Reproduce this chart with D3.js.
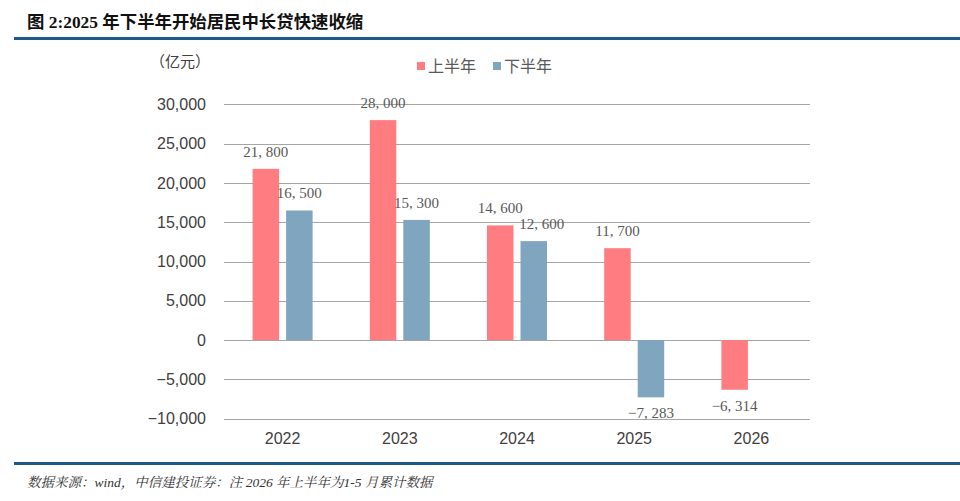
<!doctype html>
<html lang="zh">
<head>
    <meta charset="UTF-8" />
    <script src="https://d3js.org/d3.v7.min.js"></script>
    <style>
        body { margin: 0; background: #fff; }
    </style>
</head>
<body>
    <div id="chart"></div>
    <script>
        // Data
        const years = ["2022", "2023", "2024", "2025", "2026"]
        const firstHalf = [21800, 28000, 14600, 11700, -6314]
        const secondHalf = [16500, 15300, 12600, -7283, null]
        const yTicks = [-10000, -5000, 0, 5000, 10000, 15000, 20000, 25000, 30000]
        const seriesNames = ["上半年", "下半年"]
        const colors = ["#ff7c80", "#7fa5bf"]

        const W = 960, H = 501
        const svg = d3.select("#chart").append("svg")
            .attr("width", W).attr("height", H)

        // Title and rules
        svg.append("text")
            .attr("x", 27).attr("y", 28)
            .attr("font-family", "'Liberation Serif', 'Noto Sans CJK SC', serif")
            .attr("font-weight", "bold")
            .attr("font-size", 17.4)
            .attr("fill", "#111")
            .text("图 2:2025 年下半年开始居民中长贷快速收缩")

        svg.append("rect").attr("x", 14).attr("y", 37).attr("width", W - 14).attr("height", 3).attr("fill", "#1d5a8a")
        svg.append("rect").attr("x", 14).attr("y", 462).attr("width", W - 14).attr("height", 3).attr("fill", "#1d5a8a")

        svg.append("text")
            .attr("x", 27).attr("y", 487)
            .attr("font-family", "'Liberation Serif', 'Noto Serif CJK SC', 'Noto Sans CJK SC', serif")
            .attr("font-style", "italic")
            .attr("font-size", 13.5)
            .attr("fill", "#333")
            .text("数据来源：wind，中信建投证券：注 2026 年上半年为1-5 月累计数据")

        // Scales
        const x = d3.scaleBand().domain(years).range([224, 810])
        const y = d3.scaleLinear().domain([-10000, 30000]).range([418.7, 104.4])
        const barW = 26.5, gap = 7

        // Gridlines
        svg.append("g").selectAll("line")
            .data(yTicks).join("line")
            .attr("x1", 224).attr("x2", 810)
            .attr("y1", d => Math.round(y(d)) + 0.5).attr("y2", d => Math.round(y(d)) + 0.5)
            .attr("stroke", "#a6a6a6").attr("stroke-width", 1)

        // Y axis
        const yAxis = svg.append("g")
            .attr("transform", "translate(206,0)")
            .call(d3.axisLeft(y).tickValues(yTicks).tickSize(0).tickPadding(0).tickFormat(d3.format(",")))
        yAxis.select(".domain").remove()
        yAxis.selectAll("text")
            .attr("font-family", "'Liberation Sans', Arial, sans-serif")
            .attr("font-size", 16).attr("fill", "#404040")

        // X axis
        const xAxis = svg.append("g")
            .attr("transform", "translate(0,433)")
            .call(d3.axisBottom(x).tickSize(0).tickPadding(0))
        xAxis.select(".domain").remove()
        xAxis.selectAll("text")
            .attr("font-family", "'Liberation Sans', Arial, sans-serif")
            .attr("font-size", 16).attr("fill", "#404040")

        // Unit
        svg.append("text")
            .attr("x", 150).attr("y", 67)
            .attr("font-family", "'Noto Sans CJK SC', sans-serif")
            .attr("font-size", 15).attr("fill", "#404040")
            .text("（亿元）")

        // Bars
        const rows = []
        years.forEach((yr, i) => {
            [firstHalf[i], secondHalf[i]].forEach((v, s) => {
                if (v !== null) rows.push({ yr, v, s })
            })
        })
        const barX = d => x(d.yr) + x.bandwidth() / 2 + (d.s === 0 ? -gap / 2 - barW : gap / 2)

        svg.append("g").selectAll("rect")
            .data(rows).join("rect")
            .attr("x", barX)
            .attr("y", d => y(Math.max(0, d.v)))
            .attr("width", barW)
            .attr("height", d => Math.abs(y(d.v) - y(0)))
            .attr("fill", d => colors[d.s])

        const fmt = v => (v < 0 ? "−" : "") + d3.format(",")(Math.abs(v)).replace(",", ", ")

        // 2024 second-half label is nudged right to clear its neighbour
        const nudge = d => (d.yr === "2024" && d.s === 1 ? 8 : 0)

        svg.append("g").selectAll("text")
            .data(rows).join("text")
            .attr("x", d => barX(d) + barW / 2 + nudge(d))
            .attr("y", d => d.v >= 0 ? y(d.v) - 12 : y(d.v) + 21)
            .attr("text-anchor", "middle")
            .attr("font-family", "'Liberation Serif', 'Times New Roman', serif")
            .attr("font-size", 15).attr("fill", "#595959")
            .text(d => fmt(d.v))

        // Legend
        const legendX = [417, 493]
        const legend = svg.append("g").selectAll("g")
            .data(seriesNames).join("g")
            .attr("transform", (d, i) => `translate(${legendX[i]},62)`)
        legend.append("rect").attr("width", 8).attr("height", 8).attr("fill", (d, i) => colors[i])
        legend.append("text")
            .attr("x", 11).attr("y", 10)
            .attr("font-family", "'Noto Sans CJK SC', sans-serif")
            .attr("font-size", 16).attr("fill", "#595959")
            .text(d => d)
    </script>
</body>
</html>
